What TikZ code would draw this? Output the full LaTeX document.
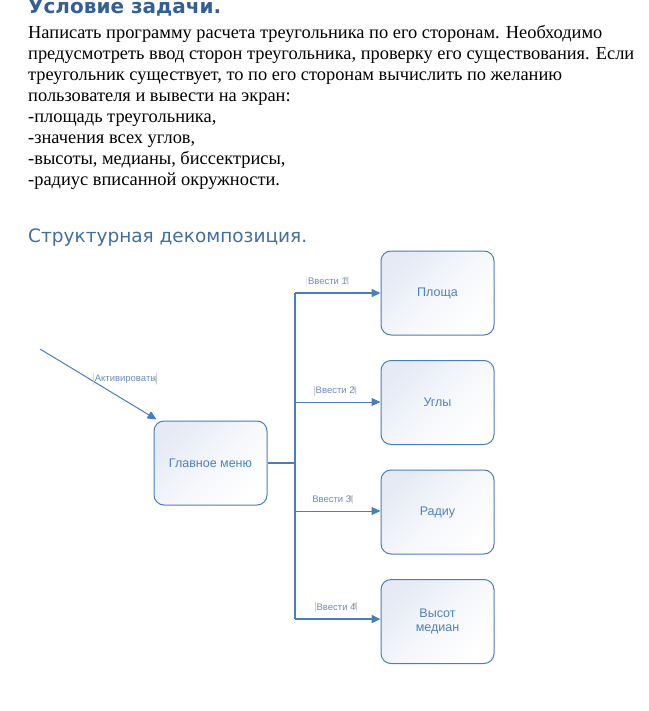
\documentclass[tikz,border=0pt]{standalone}
\usepackage{fontspec}
\setmainfont{Liberation Serif}
\setsansfont{Liberation Sans}
\newfontfamily\headfont{DejaVu Sans}
\usetikzlibrary{arrows.meta,positioning,calc}

\definecolor{headblue}{RGB}{54,95,145}
\definecolor{subblue}{RGB}{68,110,160}
\definecolor{lineblue}{RGB}{74,126,187}
\definecolor{textblue}{RGB}{79,129,189}
\definecolor{tagblue}{RGB}{110,140,190}
\definecolor{boxshade}{RGB}{229,234,245}

\begin{document}
\begin{tikzpicture}[x=1pt,y=-1pt,
  block/.style={draw=lineblue, line width=1pt, rounded corners=10pt,
    minimum width=113pt, minimum height=84pt, align=center,
    top color=boxshade, bottom color=white, middle color=boxshade!40!white,
    shading angle=45,
    font=\sffamily\fontsize{12.5}{13.5}\selectfont, text=textblue},
  tag/.style={font=\sffamily\fontsize{9.5}{10}\selectfont, text=tagblue,
    inner sep=1.5pt,
    path picture={\draw[gray!40, line width=1pt]
      (path picture bounding box.north west) -- (path picture bounding box.south west)
      (path picture bounding box.north east) -- (path picture bounding box.south east);}},
  link/.style={draw=lineblue, line width=1pt},
  trunk/.style={draw=lineblue, line width=2.4pt},
  tip/.style={-{Triangle[length=9pt,width=8pt]}},
  node distance=24.5pt]
\useasboundingbox (0,0) rectangle (648,711);

\node[anchor=base west, inner sep=0pt, font=\headfont\bfseries\fontsize{20}{21}\selectfont, text=headblue]
  (title) at (28,14) {Условие задачи.};
\node[anchor=north west, inner sep=0pt, align=left, font=\fontsize{18.4}{21}\selectfont]
  (task) at (28,25) {Написать программу расчета треугольника по его сторонам. Необходимо\\
  предусмотреть ввод сторон треугольника, проверку его существования. Если\\
  треугольник существует, то по его сторонам вычислить по желанию\\
  пользователя и вывести на экран:\\
  -площадь треугольника,\\
  -значения всех углов,\\
  -высоты, медианы, биссектрисы,\\
  -радиус вписанной окружности.};
\node[anchor=base west, inner sep=0pt, font=\headfont\fontsize{18.5}{20}\selectfont, text=subblue]
  (decomp) at (28,242) {Структурная декомпозиция.};

\node[block] (menu) at (210.5,463) {Главное меню};
\node[block] (area) at (437.5,293) {Площа};
\node[block, below=of area] (angles) {Углы};
\node[block, below=of angles] (radius) {Радиу};
\node[block, below=of radius] (heights) {Высот\\медиан};

\coordinate (src) at (40,349);
\coordinate (hub) at (295,463);
\coordinate (b1) at (295,293);
\coordinate (b2) at (295,402);
\coordinate (b3) at (295,511);
\coordinate (b4) at (295,619);

\draw[link, tip] (src) -- ([xshift=3pt,yshift=1pt]menu.north west)
  node[tag, pos=0.73, above=15pt] {Активировать};
\draw[trunk] (menu.east) -- (hub);
\draw[trunk] (b1) -- (b4);
\draw[trunk, tip] (b1) -- (b1 -| area.west) node[tag, pos=0.38, above=6pt] {Ввести 1};
\draw[link, tip] (b2) -- (b2 -| angles.west) node[tag, pos=0.47, above=6pt] {Ввести 2};
\draw[link, tip] (b3) -- (b3 -| radius.west) node[tag, pos=0.43, above=6pt] {Ввести 3};
\draw[trunk, tip] (b4) -- (b4 -| heights.west) node[tag, pos=0.48, above=6pt] {Ввести 4};
\end{tikzpicture}
\end{document}
